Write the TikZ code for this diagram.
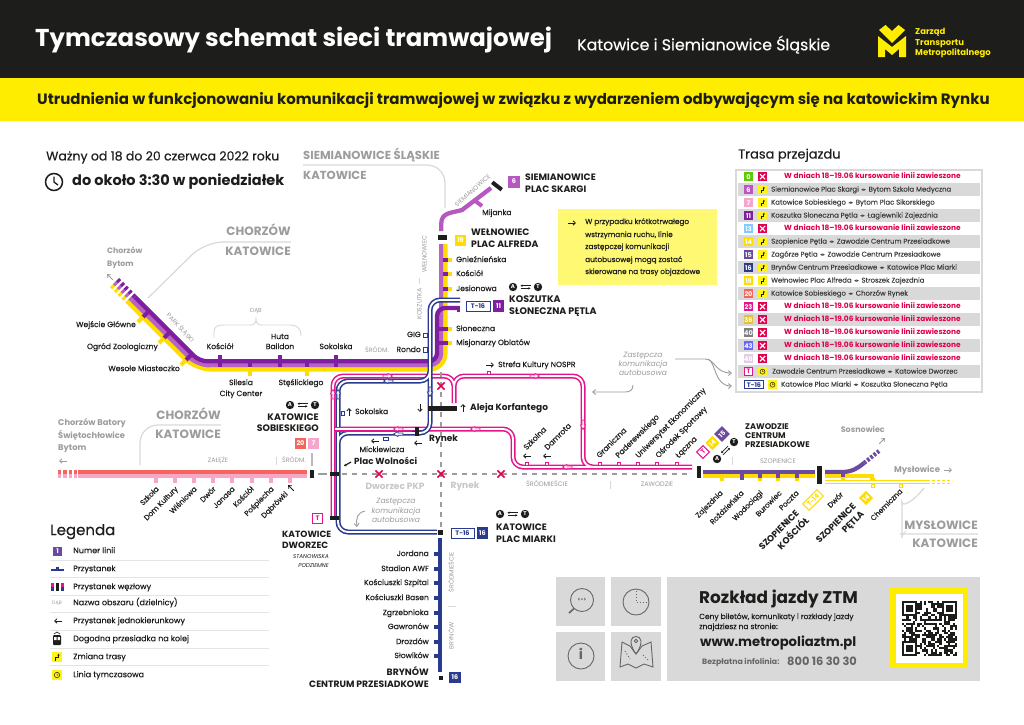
\documentclass[tikz,border=0pt]{standalone}
\usepackage{fontspec}
\usetikzlibrary{arrows.meta}
\setmainfont{Poppins}
\newfontfamily\pmed[FakeBold=0.3]{Poppins}
\newfontfamily\djv{DejaVu Sans}
\definecolor{ink}{HTML}{1D1D1B}
\definecolor{ylw}{HTML}{FFED00}
\definecolor{lyel}{HTML}{FFDD00}
\definecolor{pd}{HTML}{7F1FA0}
\definecolor{pl}{HTML}{B763C6}
\definecolor{six}{HTML}{B757C0}
\definecolor{sal}{HTML}{F4665C}
\definecolor{pnk}{HTML}{F6A6CB}
\definecolor{navy}{HTML}{293A8F}
\definecolor{mag}{HTML}{E6148C}
\definecolor{crim}{HTML}{E2004F}
\definecolor{vio}{HTML}{6B4AA0}
\definecolor{gt}{HTML}{9C9C9C}
\definecolor{gl}{HTML}{D9D9D9}
\newcount\nid
\tikzset{
 lb/.style={inner sep=0pt,text=ink,anchor=mid},
 fr/.style={font=\fontsize{#1}{#1}\selectfont,/utils/exec={\fontsize{#1}{#1}\selectfont}},
 fm/.style={font=\pmed\fontsize{#1}{#1}\selectfont,/utils/exec={\fontsize{#1}{#1}\selectfont}},
 fb/.style={font=\fontsize{#1}{#1}\selectfont\bfseries,/utils/exec={\fontsize{#1}{#1}\selectfont}},
 fi/.style={font=\fontsize{#1}{#1}\selectfont\itshape,/utils/exec={\fontsize{#1}{#1}\selectfont}},
 L/.style={anchor=mid west},
 R/.style={anchor=mid east},
 gy/.style={text=gt},
 bxs/.style={inner sep=0pt,text=white,font=\fontsize{6.5}{6.5}\selectfont\bfseries},
 sep/.style={draw=gl,line width=1.2,rounded corners=18},
 garrow/.style={draw=gt,line width=.9,-{Straight Barb[length=3,width=5]}},
 cross/.style={draw=crim,line width=1.6},
}
\newcommand\tx[4][]{\global\advance\nid by 1 \node[lb,#1] (n\the\nid) at (#2,#3) {#4};}
\newcommand\bx[7][]{\global\advance\nid by 1 \node[bxs,minimum width=#4,minimum height=#5,fill=#6,#1] (n\the\nid) at (#2,#3) {#7};}
\newcommand\dpath[3][10]{\draw[#2,line width=5,rounded corners=#1] #3; \draw[white,line width=1.9,rounded corners=#1] #3;}
\newcommand\wa[4]{\draw[#4,fill=white,line width=.7,shift={(#1,#2)},rotate=#3] (-5,-1.1)--(0,-1.1)--(0,-2.6)--(4.5,0)--(0,2.6)--(0,1.1)--(-5,1.1)--cycle;}
\newcommand\ar[4][ink]{\draw[#1,line width=.8,shift={(#2,#3)},rotate=#4,-{Straight Barb[length=2.4,width=4.4]}] (-4,0)--(4,0);}
\newcommand\crs[2]{\draw[cross,shift={(#1,#2)}] (-3.6,-3.6)--(3.6,3.6) (-3.6,3.6)--(3.6,-3.6);}
\newcommand\xf[4]{\begin{scope}[shift={(#1,#2)},rotate=#4]
 \global\advance\nid by 1
 \node[circle,fill=ink,text=white,inner sep=0pt,minimum size=8.4,font=\fontsize{5.5}{5.5}\selectfont\bfseries] (a\the\nid) at (-#3,0) {A};
 \node[circle,fill=ink,text=white,inner sep=0pt,minimum size=8.4,font=\fontsize{5.5}{5.5}\selectfont\bfseries] (t\the\nid) at (#3,0) {T};
 \draw[ink,line width=.7,-{Stealth[length=2.2,width=2.4]}] (-5,1.3)--(5,1.3);
 \draw[ink,line width=.7,-{Stealth[length=2.2,width=2.4]}] (5,-1.3)--(-5,-1.3);
 \end{scope}}
\newcommand\rt[3]{\fill[yellow!90!white,shift={(#1,#2)}] (-#3,-#3) rectangle (#3,#3);
 \draw[ink,line width=.75,shift={(#1,#2)},-{Stealth[length=1.8,width=2.2]}] (-.35*#3,.7*#3)--(-.35*#3,.05*#3)--(.3*#3,.05*#3)--(.3*#3,-.65*#3);}
\newcommand\ck[3]{\fill[yellow!90!white,shift={(#1,#2)}] (-#3,-#3) rectangle (#3,#3);
 \draw[ink,line width=.5,shift={(#1,#2)}] (0,0) circle (.55*#3) (0,-.3*#3)--(0,0)--(.25*#3,0);}
\newcommand\xb[2]{\fill[crim] (#1-4.5,#2-4.5) rectangle (#1+4.5,#2+4.5);
 \draw[white,line width=1.1,shift={(#1,#2)}] (-2.6,-2.6)--(2.6,2.6) (-2.6,2.6)--(2.6,-2.6);}
\newcommand\rowX[4]{\bx[text=#4]{748.5}{#1}{9}{9}{#2}{#3}\xb{762.5}{#1}
 \tx[L,fb=7.4,text=crim]{784}{#1}{W dniach 18–19.06 kursowanie linii zawieszone}}
\newcommand\rowR[4]{\bx{748.5}{#1}{9}{9}{#2}{#3}\rt{762.5}{#1}{4.5}
 \tx[L,fm=6.9,text=ink!85]{771}{#1}{#4}}
\newcommand\dd{{\djv\fontsize{5}{5}\selectfont\ \,◂▸\ \,}}
\begin{document}
\begin{tikzpicture}[x=1pt,y=-1pt]
\useasboundingbox (0,0) rectangle (1024,724);
\fill[white] (0,0) rectangle (1024,724);
% header
\fill[ink] (0,0) rectangle (1024,78);
\fill[ylw] (0,78) rectangle (1024,121);
\tx[L,fb=24.4,text=white]{35}{40}{Tymczasowy schemat sieci tramwajowej}
\tx[L,fm=15.8,text=white]{577}{46}{Katowice i Siemianowice Śląskie}
\tx[L,fb=15]{37}{100}{Utrudnienia w funkcjonowaniu komunikacji tramwajowej w związku z wydarzeniem odbywającym się na katowickim Rynku}
\fill[ylw] (878,57)--(878,36)--(892,47)--(906,36)--(906,57)--(899,57)--(899,49)--(892,55)--(885,49)--(885,57)--cycle;
\fill[ylw] (879,30)--(885.5,25)--(892,31)--(898.5,25)--(905,30)--(892,43)--cycle;
\tx[L,fb=8.5,text=ylw]{915}{32}{Zarząd}
\tx[L,fb=8.5,text=ylw]{915}{43}{Transportu}
\tx[L,fb=8.5,text=ylw]{915}{53}{Metropolitalnego}
% validity
\tx[L,fm=12.5]{46}{157}{Ważny od 18 do 20 czerwca 2022 roku}
\draw[ink,line width=1.5] (54,182) circle (8.5);
\draw[ink,line width=1.3] (54,176.5)--(54,182)--(58,185);
\tx[L,fb=14.5]{72}{182}{do około 3:30 w poniedziałek}
% area boundaries
\draw[sep] (303,165)--(445,165)--(445,208);
\tx[L,fb=11.6,gy]{303}{156}{SIEMIANOWICE ŚLĄSKIE}
\tx[L,fb=11.6,gy]{303}{176}{KATOWICE}
\draw[sep] (148,298)--(205,242)--(291,242);
\tx[R,fb=12,gy]{291}{232}{CHORZÓW}
\tx[R,fb=12,gy]{291}{252}{KATOWICE}
\draw[sep] (140,465)--(140,425)--(221,425);
\tx[R,fb=12,gy]{221}{416}{CHORZÓW}
\tx[R,fb=12,gy]{221}{435}{KATOWICE}
\draw[sep] (924,488) .. controls (915,500) and (902,508) .. (902,520) .. controls (902,530) and (908,534) .. (918,534) -- (978,534);
\tx[R,fb=12,gy]{978}{526}{MYSŁOWICE}
\tx[R,fb=12,gy]{978}{544}{KATOWICE}
% main purple/yellow trunk
\draw[lyel,line width=4.3,rounded corners=16] (445.4,244)--(445.4,369.5)--(195.5,369.5)--(129,303);
\draw[pl,line width=4.3,rounded corners=12] (441.2,244)--(441.2,365.3)--(197.3,365.3)--(132,300);
\draw[pd,line width=4.3,rounded corners=8] (459,308)--(437,308)--(437,361.3)--(199.3,361.3)--(135,297);
\draw[lyel,line width=4.3,dash pattern=on 3pt off 2.4pt] (129,303)--(111,285);
\draw[pl,line width=4.3,dash pattern=on 3pt off 2.4pt] (132,300)--(114,282);
\draw[pd,line width=4.3,dash pattern=on 3pt off 2.4pt] (135,297)--(117,279);
\fill[pd] (457,305.5) rectangle (460,312);
% trunk stops
\foreach \x in {220,280,336}{\fill[pd] (\x-2,355) rectangle (\x+2,367);}
\foreach \x in {250,307}{\fill[pd] (\x-2,363) rectangle (\x+2,367);\fill[lyel] (\x-2,367) rectangle (\x+2,376);}
\foreach \a/\b in {149/311,170/332,192/354}{
 \draw[pd,line width=4] (\a,\b)--(\a-6,\b+6);
 \draw[lyel,line width=4] (\a-6,\b+6)--(\a-11,\b+11);}
\foreach \y in {260,274,289}{\fill[pd] (443,\y-2) rectangle (447.5,\y+2);\fill[lyel] (447.5,\y-2) rectangle (452,\y+2);}
\foreach \y in {329,343}{\fill[pd] (438,\y-2) rectangle (447.5,\y+2);\fill[lyel] (447.5,\y-2) rectangle (452,\y+2);}
% line 6
\draw[six,line width=4.3] (441.2,231)--(441.2,224) .. controls (441.2,212) and (452,213) .. (462,210)--(491,188);
\fill[six,rotate around={53:(478,203)}] (476,200) rectangle (480,208);
\fill[ink,rotate around={-38:(497,186)}] (491,184) rectangle (503,188);
% replacement lines
\dpath{mag}{(454,403)--(454,376)--(333,376)--(333,516) (454,403)--(454,376)--(583,376)--(583,467)--(692,467) (335,429)--(513,429)--(513,467)--(692,467)}
\dpath{navy}{(460,300)--(430,300)--(430,381)--(338,381)--(338,532)--(437,532) (430,360)--(430,433)--(338,433)--(338,450)}
\foreach \x/\y in {527/462,547/462,600/462,619/462,638/462,657/462,677/462,489/371}{\draw[mag,fill=white,line width=.8] (\x-1.7,\y) rectangle (\x+1.7,\y+3.5);}
\draw[navy,fill=white,line width=.8] (423.5,333) rectangle (427,337.5);
\draw[navy,fill=white,line width=.8] (423.5,347.5) rectangle (427,352);
\draw[navy,fill=white,line width=.8] (341,411) rectangle (344.5,415);
\draw[navy,fill=white,line width=.8] (383,437) rectangle (388,440);
\dpath{mag}{(335,429)--(412,429)}
\wa{388}{376}{0}{mag}\wa{388}{381}{180}{navy}\wa{535}{376}{0}{mag}
\wa{333}{394}{90}{mag}\wa{338}{394}{90}{navy}\wa{398}{429}{180}{mag}\wa{398}{434}{180}{navy}
\wa{475}{429}{180}{mag}\wa{430}{392}{270}{navy}\wa{583}{425}{270}{mag}\wa{567}{467}{180}{mag}
% gray dashed
\draw[gt,line width=1.3,dash pattern=on 5pt off 5pt] (342,474)--(692,474);
\draw[gt,line width=1.3] (318,474)--(327,474);
\draw[gt,line width=1.3,dash pattern=on 5pt off 5pt] (441,372)--(441,528);
\crs{379}{474}\crs{441}{474}\crs{501}{474}\crs{441}{386}
% stops black
\fill[ink] (438,235) rectangle (447,239.5);
\fill[ink] (428,406) rectangle (457,411);
\fill[ink] (415,427) rectangle (419,436);
\fill[ink] (330,471.5) rectangle (339,476);
\fill[ink] (330,515.5) rectangle (339,520);
\fill[ink] (438,529.5) rectangle (443,534.5);
\fill[ink] (310,470) rectangle (314,478);
% left line
\fill[sal] (78,470) rectangle (307,474);
\fill[pnk] (78,474) rectangle (307,478.3);
\draw[sal,line width=4,dash pattern=on 3.3pt off 2pt] (58,472)--(77,472);
\draw[pnk,line width=4.3,dash pattern=on 3.3pt off 2pt] (58,476)--(77,476);
\foreach \x in {156,175,194,213,232,252,271,290}{\fill[pnk] (\x-2,478) rectangle (\x+2,482.5);}
% labels trunk
\tx[L,fb=7.8,gy]{107}{251}{Chorzów}
\tx[L,fb=7.8,gy]{107}{264}{Bytom}
\ar[gt]{110}{277}{135}
\tx[R,fm=7.6]{136}{325}{Wejście Główne}
\tx[R,fm=7.6]{158}{347}{Ogród Zoologiczny}
\tx[R,fm=7.6]{180}{369}{Wesołe Miasteczko}
\tx[fm=7.6]{220}{347}{Kościół}
\tx[fm=7.6]{280}{337}{Huta}
\tx[fm=7.6]{280}{347}{Baildon}
\tx[fm=7.6]{336}{347}{Sokolska}
\tx[fr=5.8,gy]{256}{311}{DĄB}
\draw[gl,line width=.9] (214,338)--(214,332) .. controls (214,326) and (218,325) .. (224,325) -- (250,325) .. controls (254,325) and (256,323) .. (256,319) .. controls (256,323) and (258,325) .. (262,325) -- (290,325) .. controls (297,325) and (301,328) .. (301,336);
\tx[fr=6.3,gy,rotate=-47]{180}{328}{PARK ŚLĄSKI}
\tx[fr=6.3,gy]{377}{351}{ŚRÓDM.}
\tx[fm=7.6]{241}{383}{Silesia}
\tx[fm=7.6]{241}{394}{City Center}
\tx[fm=7.6]{301}{383}{Stęślickiego}
% upper right
\bx{514}{181.5}{12}{12}{six}{6}
\tx[L,fb=9.3]{525}{178}{SIEMIANOWICE}
\tx[L,fb=9.3]{525}{190}{PLAC SKARGI}
\tx[fr=6.3,gy,rotate=41]{473}{191}{SIEMIANOWICE}
\tx[L,fm=7.6]{482}{213}{Mijanka}
\bx{460.5}{240}{11}{11}{lyel}{19}
\tx[L,fb=9.3]{471}{233}{WEŁNOWIEC}
\tx[L,fb=9.3]{471}{245}{PLAC ALFREDA}
\tx[L,fm=7.6]{456}{260}{Gnieźnieńska}
\tx[L,fm=7.6]{456}{274}{Kościół}
\tx[L,fm=7.6]{456}{289}{Jesionowa}
\tx[L,fm=7.6]{456}{329}{Słoneczna}
\tx[L,fm=7.6]{456}{343}{Misjonarzy Oblatów}
\tx[fr=6.3,gy,rotate=90]{425}{254}{WEŁNOWIEC}
\draw[gl,line width=1] (419,278)--(419,284);
\tx[fr=6.3,gy,rotate=90]{420}{304}{KOSZUTKA}
\xf{525.5}{287}{12.5}{0}
\bx[draw=navy,line width=.9,text=navy,fill=white]{478}{306}{24}{10}{white}{T-16}
\bx{498.5}{306}{11.5}{11.5}{pd}{11}
\tx[L,fb=9.5]{509}{300}{KOSZUTKA}
\tx[L,fb=9.5]{509}{312}{SŁONECZNA PĘTLA}
\tx[R,fm=7.6]{421}{335}{GIG}
\tx[R,fm=7.6]{421}{350}{Rondo}
% message box
\fill[yellow!55!white] (558,209) rectangle (717,285);
\ar{572}{223}{0}
\tx[L,fm=7.3]{585}{222}{W przypadku krótkotrwałego}
\tx[L,fm=7.3]{585}{235}{wstrzymania ruchu, linie}
\tx[L,fm=7.3]{585}{247}{zastępczej komunikacji}
\tx[L,fm=7.3]{585}{260}{autobusowej mogą zostać}
\tx[L,fm=7.3]{585}{272}{skierowane na trasy objazdowe}
% centre labels
\ar{490}{365}{0}
\tx[L,fm=7.6]{498}{365}{Strefa Kultury NOSPR}
\ar{349}{412}{90}
\tx[L,fm=7.6]{355}{412}{Sokolska}
\ar{420}{408}{270}
\ar{463}{408}{90}
\tx[L,fb=9]{470}{408}{Aleja Korfantego}
\tx[L,fb=9]{429}{439}{Rynek}
\ar{418}{443}{180}
\ar{375}{441}{180}
\tx[fm=7.6]{382}{450}{Mickiewicza}
\tx[L,fb=8.8]{354}{462}{Plac Wolności}
\draw[ink,line width=1.2,-{Stealth[length=2.5,width=3]}] (351,462)--(344,466);
\tx[fb=9,text=gl!80!gray]{395}{487}{Dworzec PKP}
\tx[fb=9,text=gl!80!gray]{465}{486}{Rynek}
\foreach \t/\y in {Zastępcza/501,komunikacja/511,autobusowa/520}{\tx[fi=7.6,gy]{396}{\y}{\t}}
\draw[garrow] (365,511) .. controls (357,513) and (356,518) .. (357,527);
\foreach \t/\y in {Zastępcza/355,komunikacja/364,autobusowa/373}{\tx[fi=7.6,gy]{643}{\y}{\t}}
\draw[garrow] (633,385) .. controls (633,390) and (630,392) .. (625,392) -- (592,392);
\draw[garrow] (675,359)--(705,359) .. controls (715,359) and (715,373) .. (732,373);
\draw[garrow] (708,359) .. controls (716,362) and (714,386) .. (732,386);
% pink stop labels
\tx[L,fm=7.6,rotate=45]{525}{449}{Szkolna}
\tx[L,fm=7.6,rotate=45]{546}{449}{Damrota}
\ar{527}{456}{180}\ar{547}{456}{180}
\tx[L,fm=7.6,rotate=45]{598}{457}{Graniczna}
\tx[L,fm=7.6,rotate=45]{617}{457}{Paderewskiego}
\tx[L,fm=7.6,rotate=45]{637}{457}{Uniwersytet Ekonomiczny}
\tx[L,fm=7.6,rotate=45]{657}{457}{Ośrodek Sportowy}
\tx[L,fm=7.6,rotate=45]{677}{457}{Łączna}
\tx[fr=6.5,gy]{547}{485}{ŚRÓDMIEŚCIE}
\draw[gl,line width=1] (610,481)--(610,489);
\tx[fr=6.5,gy]{657}{485}{ZAWODZIE}
% left lower labels
\tx[L,fb=8.3,gy]{58}{423}{Chorzów Batory}
\tx[L,fb=8.3,gy]{58}{436}{Świętochłowice}
\tx[L,fb=8.3,gy]{58}{448}{Bytom}
\ar[gt]{63}{461}{180}
\tx[fr=6.3,gy]{218}{461}{ZAŁĘŻE}
\draw[gl,line width=1] (276,457)--(276,465);
\tx[fr=6.3,gy]{294}{461}{ŚRÓDM.}
\draw[gt!70,line width=1.4] (312,453)--(312,466);
\xf{302.5}{405}{12.5}{0}
\tx[R,fb=9.4]{319}{418}{KATOWICE}
\tx[R,fb=9.4]{319}{429}{SOBIESKIEGO}
\bx{300.5}{443.5}{11}{11}{sal}{20}
\bx{313.5}{443.5}{11}{11}{pnk}{7}
\foreach \t/\x in {Szkoła/158,Dom Kultury/177,Wiśniowa/196,Dwór/215,Janasa/234,Kościół/253,Pośpiecha/273,Dąbrówki/287}{
 \tx[R,fm=7.3,rotate=45]{\x}{\ifnum\x=287 493\else 488\fi}{\t}}
\ar{291}{488}{135}
\bx[draw=mag,line width=1,text=mag]{317.5}{518}{10}{10}{white}{T}
\tx[L,fb=9]{282}{535}{KATOWICE}
\tx[L,fb=9]{282}{546}{DWORZEC}
\tx[R,fi=5.6]{329}{557}{STANOWISKA}
\tx[R,fi=5.6]{329}{566}{PODZIEMNE}
% Miarki
\bx[draw=navy,line width=.9,text=navy]{462.5}{533}{23}{10}{white}{T-16}
\bx{482.5}{533}{11.5}{11.5}{navy}{16}
\xf{512.5}{514}{12.5}{0}
\tx[L,fb=9.3]{496}{528}{KATOWICE}
\tx[L,fb=9.3]{496}{540}{PLAC MIARKI}
% line 16
\fill[navy] (438,538) rectangle (442.3,672);
\foreach \t/\y in {Jordana/554,Stadion AWF/569,Kościuszki Szpital/583,Kościuszki Basen/598,Zgrzebnioka/613,Gawronów/627,Drozdów/642,Słowików/656}{
 \fill[navy] (434,\y-2) rectangle (438,\y+2);
 \tx[R,fm=7.6]{429}{\y}{\t}}
\fill[ink] (439,676) rectangle (442.5,680);
\bx{455}{677.5}{11.5}{11.5}{navy}{16}
\tx[R,fb=9.2]{429}{673}{BRYNÓW}
\tx[R,fb=9.2]{429}{685}{CENTRUM PRZESIADKOWE}
\tx[fr=6.3,gy,rotate=90]{452}{572}{ŚRÓDMIEŚCIE}
\draw[gl,line width=1] (448,606)--(456,606);
\tx[fr=6.3,gy,rotate=90]{452}{636}{BRYNÓW}
% Zawodzie
\fill[ink] (697,466) rectangle (700.5,478);
\fill[vio] (703,470) rectangle (815,474);
\fill[lyel] (703,474) rectangle (815,478);
\foreach \x in {722,760,778,797}{\fill[lyel] (\x-1.8,476) rectangle (\x+1.8,481);}
\fill[vio] (740.2,474) rectangle (743.8,479.5);
\foreach \x in {760,778,797}{\fill[vio] (\x-1.8,474) rectangle (\x+1.8,478);}
\fill[ink] (817,466) rectangle (821.5,484);
\bx[rotate=45,draw=mag,line width=1,text=mag]{703}{452}{9}{9}{white}{T}
\bx[rotate=45]{712.5}{443}{10}{10}{lyel}{14}
\bx[rotate=45]{722}{434}{11}{11}{vio}{15}
\xf{725.5}{450.5}{12}{45}
\tx[L,fb=8.2]{745}{427}{ZAWODZIE}
\tx[L,fb=8.2]{745}{436}{CENTRUM}
\tx[L,fb=8.2]{745}{445}{PRZESIADKOWE}
\tx[fr=6.5,gy]{778}{462}{SZOPIENICE}
\draw[gl,line width=1] (732,457)--(732,465);
\foreach \t/\x in {Zajezdnia/722,Roździeńska/743,Wodociągi/762,Burowiec/781,Poczta/798}{\tx[R,fm=7.3,rotate=45]{\x}{492}{\t}}
\tx[R,fb=9,rotate=45]{798}{512}{SZOPIENICE}
\tx[R,fb=9,rotate=45]{808}{520}{KOŚCIÓŁ}
\bx[rotate=45,draw=lyel,line width=1,text=lyel]{813}{500}{20}{9}{white}{T-14}
% Szopienice
\draw[vio,line width=4.2] (825,472)--(842,472) .. controls (852,472) and (858,468) .. (864,463);
\draw[vio,line width=4.2,dash pattern=on 2.6pt off 1.6pt] (864,463)--(879,451);
\fill[lyel] (825,474) rectangle (874,478);
\fill[vio] (841,474) rectangle (845,477);
\fill[lyel] (841,477) rectangle (845,481);
\draw[lyel,line width=4] (825,482)--(930,482);
\draw[white,line width=1.4] (825,482)--(930,482);
\draw[lyel,line width=4,dash pattern=on 3pt off 2pt] (932,482)--(952,482);
\draw[white,line width=1.4] (932,482)--(952,482);
\fill[lyel] (870,478) rectangle (874.5,481);
\foreach \x in {873,901}{\draw[lyel,fill=white,line width=.8] (\x-1.7,484) rectangle (\x+1.7,487.5);}
\tx[L,fm=7.3,rotate=45]{829}{507}{Dwór}
\tx[L,fm=7.3,rotate=45]{872}{520}{Chemiczna}
\bx[rotate=45]{866}{498}{10}{10}{lyel}{14}
\tx[R,fb=9,rotate=45]{855}{505}{SZOPIENICE}
\tx[R,fb=9,rotate=45]{863}{513}{PĘTLA}
\tx[R,fb=8,gy]{885}{430}{Sosnowiec}
\ar[gt]{882}{441}{45}
\tx[L,fb=8.4,gy]{894}{470}{Mysłowice}
\ar[gt]{948}{470}{0}
% table
\tx[L,fm=13]{738}{155}{Trasa przejazdu}
\draw[gl,line width=1.5] (736,170) rectangle (982,392);
\foreach \y in {189.7,215.7,241.7,267.7,293.7,319.7,345.7,371.7}{\fill[gl] (738,\y-6.5) rectangle (980,\y+6.5);}
\rowX{176.7}{green!55!yellow!80!black}{0}{white}
\rowR{189.7}{six}{6}{Siemianowice Plac Skargi\dd Bytom Szkoła Medyczna}
\rowR{202.7}{pnk}{7}{Katowice Sobieskiego\dd Bytom Plac Sikorskiego}
\rowR{215.7}{pd}{11}{Koszutka Słoneczna Pętla\dd Łagiewniki Zajezdnia}
\rowX{228.7}{blue!40!cyan!50!white}{13}{white}
\rowR{241.7}{lyel}{14}{Szopienice Pętla\dd Zawodzie Centrum Przesiadkowe}
\rowR{254.7}{vio}{15}{Zagórze Pętla\dd Zawodzie Centrum Przesiadkowe}
\rowR{267.7}{navy}{16}{Brynów Centrum Przesiadkowe\dd Katowice Plac Miarki}
\rowR{280.7}{lyel}{19}{Wełnowiec Plac Alfreda\dd Stroszek Zajezdnia}
\rowR{293.7}{sal}{20}{Katowice Sobieskiego\dd Chorzów Rynek}
\rowX{306.7}{mag}{23}{white}
\rowX{319.7}{yellow!50!brown}{36}{white}
\rowX{332.7}{gray}{40}{white}
\rowX{345.7}{blue!60!white}{43}{white}
\rowX{358.7}{violet!20!white}{46}{white}
\bx[draw=mag,line width=1,text=mag]{748.5}{371.7}{8}{8}{white}{T}
\ck{762.5}{371.7}{4.5}
\tx[L,fm=6.9,text=ink!85]{772}{371.7}{Zawodzie Centrum Przesiadkowe\dd Katowice Dworzec}
\bx[draw=navy,line width=.9,text=navy]{754}{384.7}{19}{8}{white}{T-16}
\ck{772.5}{384.7}{4.5}
\tx[L,fm=6.9,text=ink!85]{781}{384.7}{Katowice Plac Miarki\dd Koszutka Słoneczna Pętla}
% legend
\tx[L,fm=15]{50}{531}{Legenda}
\foreach \y in {560,577,595,612,630,648,665}{\draw[gl!70,line width=.8] (50,\y)--(269,\y);}
\foreach \t/\y in {Numer linii/551,Przystanek/569,Przystanek węzłowy/587,Nazwa obszaru (dzielnicy)/603,Przystanek jednokierunkowy/621,Dogodna przesiadka na kolej/639,Zmiana trasy/657,Linia tymczasowa/675}{\tx[L,fm=8]{73}{\y}{\t}}
\bx{57.5}{551.5}{9.5}{9.5}{vio}{1}
\fill[navy] (51,568.7) rectangle (63.5,570.5);
\fill[navy] (56,566.5) rectangle (58.5,569);
\fill[mag] (51,583) rectangle (54,587);\fill[navy] (51,587) rectangle (54,591);
\fill[ink] (56,583) rectangle (59,591);
\fill[mag] (61,583) rectangle (64,587);\fill[navy] (61,587) rectangle (64,591);
\tx[fr=4.8,gy]{57}{603}{DĄB}
\ar{58}{621}{180}
\fill[ink,rounded corners=1] (53,635) rectangle (61,645);
\fill[white] (54.2,637) rectangle (56.5,640) (57.5,637) rectangle (59.8,640);
\draw[ink,line width=.6] (54,634)--(57,632)--(60,634);
\rt{57}{657}{5}
\ck{57}{675}{5}
% bottom panel
\fill[gl] (556,577) rectangle (605,626);
\fill[gl] (611,577) rectangle (661,626);
\fill[gl] (556,632) rectangle (605,681);
\fill[gl] (611,632) rectangle (661,681);
\fill[gl] (667,577) rectangle (980,681);
\begin{scope}[draw=gray!80!black,line width=.9]
 \draw (582,600) circle (11.5);
 \draw[line width=1.6] (574,608.5)--(569,613);
 \tx[fb=5.5,text=gray!80!black]{582}{600}{<•>}
 \draw (636,602) circle (13);
 \draw[dotted,line width=1] (636,591)--(636,602)--(647,602);
 \draw (581,656) circle (13);
 \tx[fb=14,text=gray!80!black]{581}{656}{i}
 \draw (622,642)--(630,646)--(636,654)--(642,646)--(651,642)--(653,667)--(644,664)--(636,668)--(628,664)--(620,667)--cycle;
 \draw (636,654) .. controls (631,647) and (631,643) .. (631,641) .. controls (631,635) and (641,635) .. (641,641) .. controls (641,643) and (641,647) .. (636,654);
 \draw (636,641) circle (1.7);
 \draw[dotted,line width=1] (625,651)--(630,659) (643,655)--(648,660);
\end{scope}
\tx[L,fb=16.9]{699}{599}{Rozkład jazdy ZTM}
\tx[L,fm=7.5]{699}{617}{Ceny biletów, komunikaty i rozkłady jazdy}
\tx[L,fm=7.5]{699}{627}{znajdziesz na stronie:}
\tx[L,fb=13.2]{700}{643}{www.metropoliaztm.pl}
\tx[L,fb=7.8,text=gray!80!black]{702}{662}{Bezpłatna infolinia:}
\tx[L,fb=11.4,text=gray!80!black]{787}{662}{800 16 30 30}
% QR
\fill[ylw] (890,588) rectangle (968,668);
\fill[white] (896,594) rectangle (963,663);
\begin{scope}[shift={(902,601)},x=2.2pt,y=-2.2pt]
 \pgfmathsetseed{11}
 \foreach \i in {0,...,24}{\foreach \j in {0,...,24}{
  \pgfmathrandominteger{\q}{0}{9}
  \ifnum\q>4 \fill[ink] (\i,\j) rectangle (\i+1.02,\j+1.02);\fi}}
 \foreach \a/\b in {0/0,18/0,0/18}{
  \fill[ink] (\a,\b) rectangle (\a+7,\b+7);
  \fill[white] (\a+1,\b+1) rectangle (\a+6,\b+6);
  \fill[ink] (\a+2,\b+2) rectangle (\a+5,\b+5);}
\end{scope}
\end{tikzpicture}
\end{document}
